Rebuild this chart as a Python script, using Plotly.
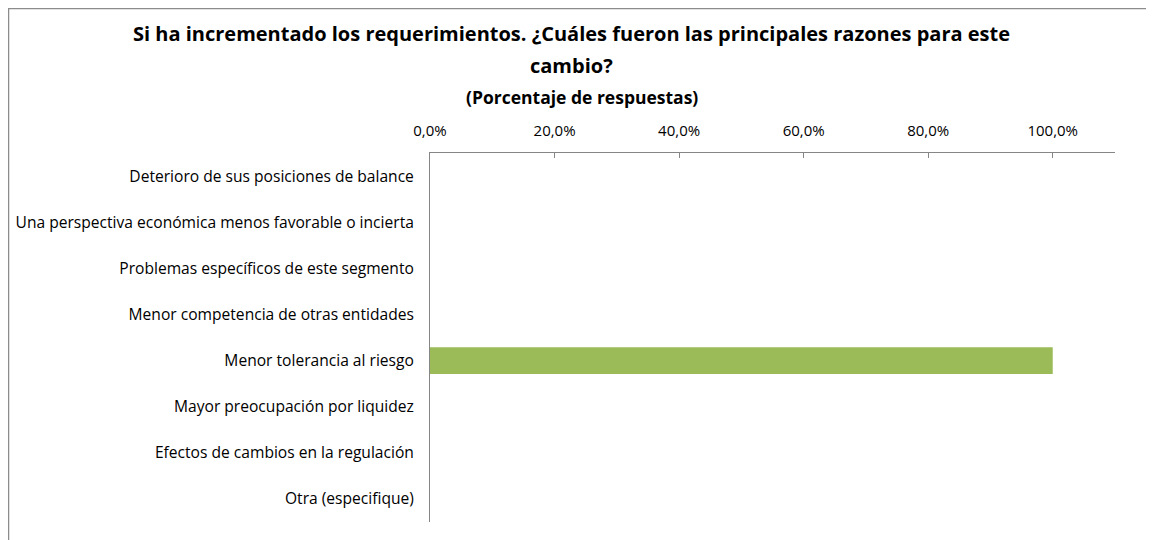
import plotly.graph_objects as go

categories = [
    "Deterioro de sus posiciones de balance",
    "Una perspectiva económica menos favorable o incierta",
    "Problemas específicos de este segmento",
    "Menor competencia de otras entidades",
    "Menor tolerancia al riesgo",
    "Mayor preocupación por liquidez",
    "Efectos de cambios en la regulación",
    "Otra (especifique)",
]
values = [0.0, 0.0, 0.0, 0.0, 1.0, 0.0, 0.0, 0.0]
tick_vals = [0.0, 0.2, 0.4, 0.6, 0.8, 1.0]
tick_text = ["0,0%", "20,0%", "40,0%", "60,0%", "80,0%", "100,0%"]

title_line1 = "Si ha incrementado los requerimientos. ¿Cuáles fueron las principales razones para este"
title_line2 = "cambio?"
subtitle = "(Porcentaje de respuestas)"

FONT = "Open Sans, sans-serif"
OFF = 8  # page body margin in the browser
W, H = 1154 - OFF, 540 - OFF
L, R, T, B = 430 - OFF, 39, 153 - OFF, 18
pw, ph = W - L - R, H - T - B

fig = go.Figure(go.Bar(
    x=values, y=categories, orientation="h",
    marker=dict(color="#9BBB59", line=dict(width=0)),
    width=0.58, hoverinfo="x+y",
))

fig.update_layout(
    width=W, height=H,
    margin=dict(l=L, r=R, t=T, b=B, autoexpand=False),
    paper_bgcolor="white", plot_bgcolor="white",
    showlegend=False,
    font=dict(family=FONT, size=15, color="#000000"),
    xaxis=dict(
        side="top", range=[0, 1.1], tickvals=tick_vals, ticktext=tick_text,
        showgrid=False, zeroline=False, showline=True, linecolor="#868686", linewidth=1,
        ticks="inside", ticklen=5, tickcolor="#868686", automargin=False,
        ticklabelstandoff=10,
        tickfont=dict(family=FONT, size=15, color="#000000"),
    ),
    yaxis=dict(
        autorange="reversed", showgrid=False, zeroline=False,
        showline=True, linecolor="#868686", linewidth=1,
        ticks="", ticklabelstandoff=12, automargin=False,
        tickfont=dict(family=FONT, size=15.6, color="#000000"),
    ),
)

def px_x(x):
    return (x - OFF - L) / pw

def px_y(y):
    return (H - B - (y - OFF)) / ph

fig.add_annotation(text="<b>" + title_line1 + "</b>", xref="paper", yref="paper",
                   x=px_x(571), y=px_y(33), showarrow=False, xanchor="center", yanchor="middle",
                   font=dict(family=FONT, size=20, color="#000000"))
fig.add_annotation(text="<b>" + title_line2 + "</b>", xref="paper", yref="paper",
                   x=px_x(571), y=px_y(65), showarrow=False, xanchor="center", yanchor="middle",
                   font=dict(family=FONT, size=20, color="#000000"))
fig.add_annotation(text="<b>" + subtitle + "</b>", xref="paper", yref="paper",
                   x=px_x(582), y=px_y(97), showarrow=False, xanchor="center", yanchor="middle",
                   font=dict(family=FONT, size=17.5, color="#000000"))

# chart-area border (top and left edges visible)
fig.add_shape(type="line", xref="paper", yref="paper",
              x0=px_x(OFF), x1=px_x(1154), y0=px_y(OFF + 0.5), y1=px_y(OFF + 0.5),
              line=dict(color="#8C8C8C", width=1.5))
fig.add_shape(type="line", xref="paper", yref="paper",
              x0=px_x(OFF + 0.5), x1=px_x(OFF + 0.5), y0=px_y(OFF + 0.5), y1=px_y(540),
              line=dict(color="#8C8C8C", width=1.5))

fig.write_html("out.html")
